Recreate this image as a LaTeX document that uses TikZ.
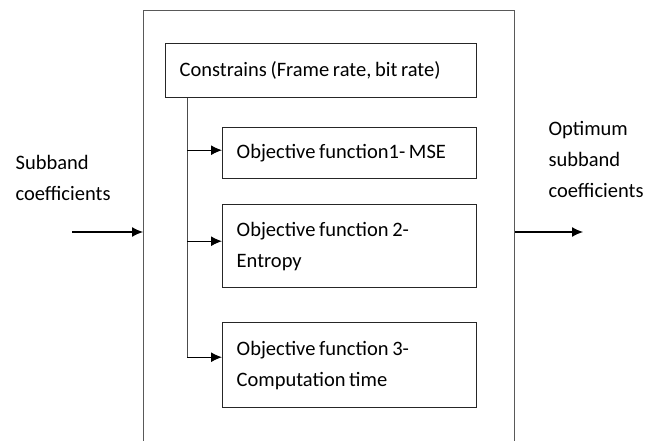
\documentclass[tikz,border=0pt]{standalone}
\usepackage{fontspec}
\setmainfont{Carlito}
\usetikzlibrary{arrows.meta}

\begin{document}
\begin{tikzpicture}[x=1pt, y=-1pt, >={Latex[length=11pt,width=10pt]}, line width=1.2pt,
  every label text/.style={font=\fontsize{20.5}{31}\selectfont, align=left, inner sep=0pt, anchor=north west},
  block/.style={draw, line width=1.4pt, black!85, text=black, anchor=north west, inner xsep=14pt, align=left,
    font=\fontsize{20.5}{31}\selectfont, execute at begin node={\spaceskip=0.18em plus 0.05em\relax}}]

\useasboundingbox (0,0) rectangle (662,441);

% outer system box (runs off the bottom edge)
\node [draw, black!65, line width=1pt, minimum width=371pt, minimum height=442pt] (system) at (329,232) {};

\node [block, minimum width=311pt, minimum height=54pt, text width=283pt] (constr) at (165,43)
  {Constrains (Frame rate, bit rate)};

\foreach \t/\y/\h [count=\i] in {{Objective function1- MSE}/127/51,
    {Objective function 2-\\Entropy}/204/83,
    {Objective function 3-\\Computation time}/322/85}
  \node [block, minimum width=254pt, minimum height=\h pt, text width=226pt] (obj-\i) at (222,\y) {\t};

\coordinate (trunk) at ([xshift=22pt]constr.south west);
\draw [black!70, line width=1pt] (trunk) -- ([yshift=8pt]trunk |- obj-3.west);
\foreach \i/\s in {1/3,2/5,3/8}
  \draw [->] ([yshift=\s pt]trunk |- obj-\i.west) -- ([yshift=\s pt]obj-\i.west);

% input and output
\node [every label text/.try] (input) at (15,155) {Subband\\coefficients};
\node [every label text/.try] (output) at (548,121) {Optimum\\subband\\coefficients};

\coordinate (in) at (72,232);
\coordinate (out) at (583,232);
\draw [->] (in) -- (system.west);
\draw [->] (system.east) -- (out);

\end{tikzpicture}
\end{document}
